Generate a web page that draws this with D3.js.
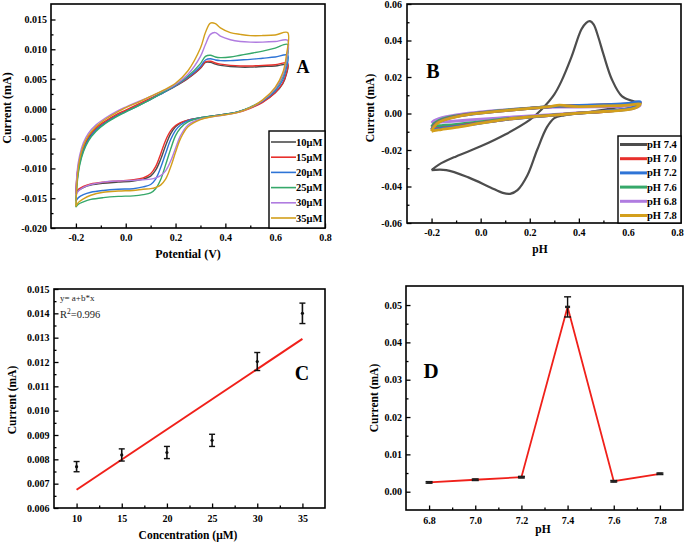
<!DOCTYPE html>
<html><head><meta charset="utf-8">
<script src="https://cdn.jsdelivr.net/npm/d3@7"></script>
<style>body{margin:0;background:#fff}svg{display:block;background:#fff}</style>
</head><body>
<svg id="fig" width="685" height="545"></svg>
<script>
// ---------------- Panel A data (CV at different concentrations) ----------------
const labelsA = ["10μM", "15μM", "20μM", "25μM", "30μM", "35μM"];
const potA_fwd = [-0.2, -0.195, -0.185, -0.17, -0.15, -0.12, -0.08, -0.04, 0, 0.05, 0.1, 0.15, 0.2, 0.25, 0.3, 0.32, 0.34, 0.36, 0.38, 0.42, 0.46, 0.5, 0.55, 0.6, 0.65];
const potA_rev = [0.65, 0.645, 0.63, 0.6, 0.55, 0.5, 0.45, 0.4, 0.35, 0.3, 0.25, 0.22, 0.2, 0.18, 0.16, 0.14, 0.12, 0.1, 0.07, 0.03, -0.03, -0.09, -0.14, -0.17, -0.19, -0.2];
const curA10_fwd = [-0.0143, -0.0112, -0.0087, -0.0067, -0.005, -0.0035, -0.0022, -0.0012, -0.0004, 0.0006, 0.0016, 0.0027, 0.0038, 0.0051, 0.0068, 0.0078, 0.0078, 0.0075, 0.0073, 0.0071, 0.0070, 0.0070, 0.0071, 0.0072, 0.0074];
const curA10_rev = [0.0074, 0.0058, 0.0042, 0.0027, 0.0012, 0.0002, -0.0005, -0.0009, -0.0012, -0.0015, -0.0019, -0.0024, -0.003, -0.0042, -0.0062, -0.0085, -0.0103, -0.0113, -0.0118, -0.0121, -0.0123, -0.0125, -0.0128, -0.0132, -0.0137, -0.0143];
const curA15_fwd = [-0.0142, -0.011, -0.0084, -0.0064, -0.0047, -0.0032, -0.002, -0.001, -0.0002, 0.0008, 0.0018, 0.0028, 0.0039, 0.0052, 0.0069, 0.0079, 0.0080, 0.0077, 0.0075, 0.0073, 0.0072, 0.0072, 0.0073, 0.0074, 0.0077];
const curA15_rev = [0.0077, 0.006, 0.0043, 0.0027, 0.0011, 0.0001, -0.0006, -0.0009, -0.0012, -0.0015, -0.0019, -0.0023, -0.0028, -0.0037, -0.0053, -0.0076, -0.0097, -0.0109, -0.0116, -0.0119, -0.0121, -0.0123, -0.0126, -0.013, -0.0135, -0.0142];
const curA20_fwd = [-0.0155, -0.012, -0.0092, -0.007, -0.0052, -0.0036, -0.0023, -0.0013, -0.0005, 0.0005, 0.0016, 0.0027, 0.0039, 0.0053, 0.0071, 0.0082, 0.0084, 0.0082, 0.0081, 0.0081, 0.0082, 0.0083, 0.0085, 0.0087, 0.009];
const curA20_rev = [0.009, 0.0068, 0.0048, 0.003, 0.0013, 0.0002, -0.0005, -0.0009, -0.0012, -0.0015, -0.002, -0.0027, -0.0036, -0.0052, -0.0075, -0.0099, -0.0118, -0.0127, -0.0131, -0.0134, -0.0135, -0.0137, -0.014, -0.0144, -0.0149, -0.0155];
const curA25_fwd = [-0.0165, -0.0125, -0.0095, -0.0072, -0.0054, -0.0038, -0.0024, -0.0014, -0.0005, 0.0005, 0.0016, 0.0028, 0.004, 0.0055, 0.0076, 0.0088, 0.009, 0.0087, 0.0086, 0.0087, 0.009, 0.0093, 0.0097, 0.0102, 0.0108];
const curA25_rev = [0.0108, 0.0078, 0.0053, 0.0033, 0.0014, 0.0003, -0.0005, -0.0009, -0.0012, -0.0015, -0.0022, -0.0032, -0.0045, -0.0068, -0.0094, -0.0119, -0.0134, -0.0141, -0.0144, -0.0146, -0.0147, -0.0149, -0.0152, -0.0156, -0.016, -0.0165];
const curA30_fwd = [-0.0145, -0.0105, -0.0078, -0.0057, -0.0041, -0.0027, -0.0015, -0.0005, 0.0003, 0.0012, 0.0021, 0.003, 0.0041, 0.0058, 0.0088, 0.0108, 0.0125, 0.0128, 0.0122, 0.0116, 0.0113, 0.0112, 0.0112, 0.0113, 0.0115];
const curA30_rev = [0.0115, 0.0082, 0.0056, 0.0034, 0.0014, 0.0002, -0.0006, -0.001, -0.0013, -0.0017, -0.0027, -0.0045, -0.0066, -0.0088, -0.0104, -0.0112, -0.0116, -0.0118, -0.0119, -0.012, -0.0121, -0.0123, -0.0127, -0.0132, -0.0138, -0.0145];
const curA35_fwd = [-0.0164, -0.012, -0.0085, -0.0062, -0.0045, -0.003, -0.0017, -0.0007, 0.0002, 0.0011, 0.0021, 0.0031, 0.0043, 0.0064, 0.0102, 0.0128, 0.0144, 0.0143, 0.0136, 0.0128, 0.0125, 0.0123, 0.0123, 0.0124, 0.0128];
const curA35_rev = [0.0128, 0.009, 0.006, 0.0036, 0.0015, 0.0002, -0.0006, -0.001, -0.0013, -0.0018, -0.003, -0.005, -0.0073, -0.0098, -0.0118, -0.0128, -0.0132, -0.0134, -0.0135, -0.0137, -0.0138, -0.014, -0.0145, -0.0151, -0.0157, -0.0164];

// ---------------- Panel B data (CV at different pH) ----------------
const labelsB = ["pH 7.4", "pH 7.0", "pH 7.2", "pH 7.6", "pH 6.8", "pH 7.8"];
const potB74_fwd = [-0.2, -0.17, -0.1, 0.0, 0.1, 0.2, 0.25, 0.3, 0.33, 0.37, 0.41, 0.43, 0.445, 0.46, 0.48, 0.5, 0.535, 0.575, 0.62, 0.65];
const curB74_fwd = [-0.031, -0.028, -0.0235, -0.018, -0.0115, -0.0035, 0.0025, 0.0105, 0.018, 0.031, 0.046, 0.0497, 0.0506, 0.0488, 0.0415, 0.0325, 0.0185, 0.0095, 0.0068, 0.006];
const potB74_rev = [0.65, 0.6, 0.5, 0.4, 0.34, 0.3, 0.27, 0.23, 0.19, 0.15, 0.12, 0.09, 0.04, -0.05, -0.14, -0.2];
const curB74_rev = [0.006, 0.0045, 0.002, 0.0, -0.001, -0.0025, -0.0075, -0.02, -0.034, -0.042, -0.044, -0.0435, -0.0405, -0.035, -0.031, -0.031];
const potB_fwd = [-0.2, -0.19, -0.17, -0.14, -0.1, -0.05, 0, 0.1, 0.2, 0.28, 0.32, 0.35, 0.4, 0.5, 0.6, 0.65];
const potB_rev = [0.65, 0.64, 0.62, 0.58, 0.5, 0.4, 0.3, 0.2, 0.1, 0, -0.1, -0.16, -0.19, -0.2];
const curB70_fwd = [-0.0088, -0.0066, -0.0045, -0.0029, -0.0016, -0.0005, 0.0003, 0.0016, 0.0028, 0.0037, 0.004, 0.0042, 0.0043, 0.0047, 0.0053, 0.006];
const curB70_rev = [0.006, 0.0043, 0.0031, 0.0021, 0.0011, 0.0002, -0.0009, -0.002, -0.0033, -0.0051, -0.007, -0.008, -0.0085, -0.0088];
const curB72_fwd = [-0.009, -0.0068, -0.0046, -0.003, -0.0017, -0.0006, 0.0002, 0.0016, 0.0028, 0.0037, 0.004, 0.0042, 0.0044, 0.0049, 0.0055, 0.0065];
const curB72_rev = [0.0065, 0.0045, 0.0032, 0.0022, 0.0012, 0.0002, -0.0009, -0.002, -0.0033, -0.0052, -0.0072, -0.0082, -0.0087, -0.009];
const curB76_fwd = [-0.0072, -0.0055, -0.0038, -0.0024, -0.0013, -0.0003, 0.0005, 0.0018, 0.003, 0.0038, 0.004, 0.0041, 0.0043, 0.0046, 0.005, 0.0056];
const curB76_rev = [0.0056, 0.004, 0.0029, 0.002, 0.0011, 0.0002, -0.0008, -0.0018, -0.003, -0.0045, -0.006, -0.0066, -0.0069, -0.0072];
const curB68_fwd = [-0.0052, -0.004, -0.0028, -0.0017, -0.0007, 0.0002, 0.0009, 0.002, 0.0029, 0.0034, 0.0035, 0.0035, 0.0035, 0.0037, 0.004, 0.0045];
const curB68_rev = [0.0045, 0.0035, 0.0027, 0.002, 0.0012, 0.0004, -0.0005, -0.0013, -0.0022, -0.0031, -0.0041, -0.0047, -0.005, -0.0052];
const curB78_fwd = [-0.0098, -0.0072, -0.0048, -0.0032, -0.0018, -0.0006, 0.0002, 0.0016, 0.0028, 0.0038, 0.0046, 0.0042, 0.0038, 0.0041, 0.0046, 0.0052];
const curB78_rev = [0.0052, 0.0038, 0.0027, 0.0018, 0.0011, 0.0002, -0.0009, -0.0019, -0.0032, -0.0053, -0.0076, -0.0088, -0.0094, -0.0098];

// ---------------- Panel C data (calibration) ----------------
const concC = [10, 15, 20, 25, 30, 35];
const curC = [0.0077, 0.00818, 0.00828, 0.00878, 0.01202, 0.0140];
const errC = [0.00021, 0.00025, 0.00025, 0.00025, 0.00037, 0.00042];
const fitConc = [10, 35];
const fitCur = [0.00675, 0.01295];
const fitText = ["y= a+b*x", "R", "2", "=0.996"];

// ---------------- Panel D data (pH effect) ----------------
const phD = [6.8, 7.0, 7.2, 7.4, 7.6, 7.8];
const curD = [0.0025, 0.0032, 0.0039, 0.0495, 0.0028, 0.0048];
const errD = [0.0002, 0.0002, 0.0002, 0.0027, 0.0002, 0.0002];

// ---------------- Tick values ----------------
const ticksCVx = [-0.2, 0, 0.2, 0.4, 0.6, 0.8];
const minorCVx = [-0.1, 0.1, 0.3, 0.5, 0.7];
const ticksAy = [-0.02, -0.015, -0.01, -0.005, 0, 0.005, 0.01, 0.015];
const minorAy = [-0.0175, -0.0125, -0.0075, -0.0025, 0.0025, 0.0075, 0.0125];
const ticksBy = [-0.06, -0.04, -0.02, 0, 0.02, 0.04, 0.06];
const minorBy = [-0.05, -0.03, -0.01, 0.01, 0.03, 0.05];
const ticksCx = [10, 15, 20, 25, 30, 35];
const minorCx = [12.5, 17.5, 22.5, 27.5, 32.5];
const ticksCy = [0.006, 0.007, 0.008, 0.009, 0.010, 0.011, 0.012, 0.013, 0.014, 0.015];
const minorCy = [0.0065, 0.0075, 0.0085, 0.0095, 0.0105, 0.0115, 0.0125, 0.0135, 0.0145];
const ticksDx = [6.8, 7.0, 7.2, 7.4, 7.6, 7.8];
const minorDx = [6.9, 7.1, 7.3, 7.5, 7.7];
const ticksDy = [0, 0.01, 0.02, 0.03, 0.04, 0.05];
const minorDy = [0.005, 0.015, 0.025, 0.035, 0.045];

// ---------------- Drawing ----------------
const svg = d3.select('#fig');
const FONT = "'Liberation Serif','Times New Roman',serif";
const colors = ['#4d4d4d', '#e8302c', '#2e74d6', '#36a86a', '#b07ce0', '#d39f1c'];

function makePanel(o) {
  const x = d3.scaleLinear().domain(o.xDomain).range([o.left, o.right]);
  const y = d3.scaleLinear().domain(o.yDomain).range([o.bottom, o.top]);
  const g = svg.append('g');
  const data = g.append('g');
  const ax = g.append('g');
  const rm = s => s.select('.domain').remove();
  ax.append('g').attr('transform', `translate(0,${o.bottom})`)
    .call(d3.axisBottom(x).tickValues(o.xMinor).tickSize(-2.5).tickFormat('')).call(rm);
  ax.append('g').attr('transform', `translate(${o.left},0)`)
    .call(d3.axisLeft(y).tickValues(o.yMinor).tickSize(-2.5).tickFormat('')).call(rm);
  ax.append('g').attr('transform', `translate(0,${o.bottom})`)
    .call(d3.axisBottom(x).tickValues(o.xTicks).tickSize(-4.5).tickPadding(o.xPad).tickFormat(o.xFmt)).call(rm);
  ax.append('g').attr('transform', `translate(${o.left},0)`)
    .call(d3.axisLeft(y).tickValues(o.yTicks).tickSize(-4.5).tickPadding(o.yPad).tickFormat(o.yFmt)).call(rm);
  ax.selectAll('.tick line').attr('stroke', '#000').attr('stroke-width', 1.3);
  ax.selectAll('.tick text').attr('font-family', FONT).attr('font-weight', 'bold')
    .attr('font-size', o.tickFs || 10).attr('fill', '#000');
  ax.append('rect').attr('x', o.left).attr('y', o.top)
    .attr('width', o.right - o.left).attr('height', o.bottom - o.top)
    .attr('fill', 'none').attr('stroke', '#000').attr('stroke-width', 1.6);
  ax.append('text').attr('x', o.xTitleX).attr('y', o.xTitleY).attr('text-anchor', 'middle')
    .attr('font-family', FONT).attr('font-weight', 'bold').attr('font-size', o.titleFs || 11.5)
    .text(o.xTitle);
  ax.append('text').attr('transform', `translate(${o.yTitleX},${o.yTitleY}) rotate(-90)`)
    .attr('text-anchor', 'middle').attr('dominant-baseline', 'central')
    .attr('font-family', FONT).attr('font-weight', 'bold').attr('font-size', o.titleFs || 11.5)
    .text(o.yTitle);
  ax.append('text').attr('x', o.letterX).attr('y', o.letterY).attr('text-anchor', 'middle')
    .attr('font-family', FONT).attr('font-weight', 'bold').attr('font-size', o.letterFs)
    .text(o.letter);
  return { x, y, g: data, ax };
}

const f3 = d => d.toFixed(3), f2 = d => d.toFixed(2), f1 = d => d.toFixed(1), f0 = d => d.toFixed(0);

// ---- Panel A
const A = makePanel({ left: 51, right: 325, top: 4, bottom: 228, xDomain: [-0.3, 0.8], yDomain: [-0.02, 0.0176],
  xTicks: ticksCVx, xMinor: minorCVx, yTicks: ticksAy, yMinor: minorAy, xFmt: f1, yFmt: f3, xPad: 6, yPad: 4,
  xTitle: 'Potential (V)', xTitleX: 188, xTitleY: 258, yTitle: 'Current (mA)', yTitleX: 7, yTitleY: 108, titleFs: 12,
  letter: 'A', letterX: 303, letterY: 73, letterFs: 18 });
const seriesA = [
  [curA10_fwd, curA10_rev], [curA15_fwd, curA15_rev], [curA20_fwd, curA20_rev],
  [curA25_fwd, curA25_rev], [curA30_fwd, curA30_rev], [curA35_fwd, curA35_rev]
].map((s, i) => ({ name: labelsA[i], color: colors[i],
  pts: potA_fwd.map((p, k) => [p, s[0][k]]).concat(potA_rev.slice(1).map((p, k) => [p, s[1][k + 1]])) }));
const lineA = d3.line().x(d => A.x(d[0])).y(d => A.y(d[1])).curve(d3.curveCatmullRom.alpha(0.5));
A.g.selectAll('path.cv').data(seriesA).join('path').attr('class', 'cv')
  .attr('d', d => lineA(d.pts)).attr('fill', 'none').attr('stroke', d => d.color).attr('stroke-width', 1.4);
const legA = A.ax.append('g');
legA.append('rect').attr('x', 269).attr('y', 131).attr('width', 56).attr('height', 97)
  .attr('fill', '#fff').attr('stroke', '#000').attr('stroke-width', 1.4);
seriesA.forEach((s, i) => {
  const yy = 142 + i * 15.2;
  legA.append('line').attr('x1', 271).attr('x2', 296).attr('y1', yy).attr('y2', yy)
    .attr('stroke', s.color).attr('stroke-width', 1.6);
  legA.append('text').attr('x', 296).attr('y', yy).attr('dominant-baseline', 'central')
    .attr('font-family', FONT).attr('font-weight', 'bold').attr('font-size', 10.5).text(s.name);
});

// ---- Panel B
const B = makePanel({ left: 407, right: 681, top: 4, bottom: 223, xDomain: [-0.3, 0.816], yDomain: [-0.06, 0.06],
  xTicks: ticksCVx, xMinor: minorCVx, yTicks: ticksBy, yMinor: minorBy, xFmt: f1, yFmt: f2, xPad: 6, yPad: 5,
  xTitle: 'pH', xTitleX: 540, xTitleY: 253, yTitle: 'Current (mA)', yTitleX: 370, yTitleY: 108,
  letter: 'B', letterX: 433, letterY: 78, letterFs: 20 });
const rawB = [
  [potB74_fwd, curB74_fwd, potB74_rev, curB74_rev],
  [potB_fwd, curB70_fwd, potB_rev, curB70_rev],
  [potB_fwd, curB72_fwd, potB_rev, curB72_rev],
  [potB_fwd, curB76_fwd, potB_rev, curB76_rev],
  [potB_fwd, curB68_fwd, potB_rev, curB68_rev],
  [potB_fwd, curB78_fwd, potB_rev, curB78_rev]
];
const seriesB = rawB.map((s, i) => ({ name: labelsB[i], color: colors[i], w: i === 0 ? 2.2 : 2.8,
  pts: s[0].map((p, k) => [p, s[1][k]]).concat(s[2].slice(1).map((p, k) => [p, s[3][k + 1]])) }));
const lineB = d3.line().x(d => B.x(d[0])).y(d => B.y(d[1])).curve(d3.curveCatmullRom.alpha(0.5));
const orderB = [0, 4, 3, 1, 2, 5];
B.g.selectAll('path.cv').data(orderB.map(i => seriesB[i])).join('path').attr('class', 'cv')
  .attr('d', d => lineB(d.pts)).attr('fill', 'none').attr('stroke', d => d.color)
  .attr('stroke-width', d => d.w).attr('stroke-linejoin', 'round');
const legB = B.ax.append('g');
legB.append('rect').attr('x', 618).attr('y', 136).attr('width', 63).attr('height', 87)
  .attr('fill', '#fff').attr('stroke', '#000').attr('stroke-width', 1.4);
seriesB.forEach((s, i) => {
  const yy = 144.5 + i * 14.2;
  legB.append('line').attr('x1', 620).attr('x2', 647).attr('y1', yy).attr('y2', yy)
    .attr('stroke', s.color).attr('stroke-width', 3);
  legB.append('text').attr('x', 647).attr('y', yy).attr('dominant-baseline', 'central')
    .attr('font-family', FONT).attr('font-weight', 'bold').attr('font-size', 10.5).text(s.name);
});

// ---- Panel C
const C = makePanel({ left: 54, right: 325, top: 289, bottom: 508, xDomain: [7.5, 37.5], yDomain: [0.006, 0.015],
  xTicks: ticksCx, xMinor: minorCx, yTicks: ticksCy, yMinor: minorCy, xFmt: f0, yFmt: f3, xPad: 7, yPad: 4.5,
  xTitle: 'Concentration (μM)', xTitleX: 188, xTitleY: 539, yTitle: 'Current (mA)', yTitleX: 12, yTitleY: 400,
  letter: 'C', letterX: 302, letterY: 380, letterFs: 20 });
C.g.append('path').datum(fitConc.map((c, i) => [c, fitCur[i]]))
  .attr('d', d3.line().x(d => C.x(d[0])).y(d => C.y(d[1])))
  .attr('stroke', '#f0201a').attr('stroke-width', 2).attr('fill', 'none');
const eC = C.g.selectAll('g.err').data(concC.map((c, i) => ({ c, v: curC[i], e: errC[i] }))).join('g').attr('class', 'err');
eC.append('line').attr('x1', d => C.x(d.c)).attr('x2', d => C.x(d.c))
  .attr('y1', d => C.y(d.v - d.e)).attr('y2', d => C.y(d.v + d.e)).attr('stroke', '#111').attr('stroke-width', 1.6);
eC.append('line').attr('x1', d => C.x(d.c) - 3).attr('x2', d => C.x(d.c) + 3)
  .attr('y1', d => C.y(d.v - d.e)).attr('y2', d => C.y(d.v - d.e)).attr('stroke', '#111').attr('stroke-width', 1.4);
eC.append('line').attr('x1', d => C.x(d.c) - 3).attr('x2', d => C.x(d.c) + 3)
  .attr('y1', d => C.y(d.v + d.e)).attr('y2', d => C.y(d.v + d.e)).attr('stroke', '#111').attr('stroke-width', 1.4);
eC.append('circle').attr('cx', d => C.x(d.c)).attr('cy', d => C.y(d.v)).attr('r', 1.6).attr('fill', '#111');
const tC = C.ax.append('g').attr('font-family', FONT).attr('fill', '#222');
tC.append('text').attr('x', 60).attr('y', 301).attr('font-size', 9).text(fitText[0]);
const r2 = tC.append('text').attr('x', 60).attr('y', 318).attr('font-size', 10.5);
r2.append('tspan').text(fitText[1]);
r2.append('tspan').attr('dy', -4).attr('font-size', 7.5).text(fitText[2]);
r2.append('tspan').attr('dy', 4).text(fitText[3]);

// ---- Panel D
const D = makePanel({ left: 406, right: 683, top: 286, bottom: 510, xDomain: [6.7, 7.9], yDomain: [-0.0049, 0.0551],
  xTicks: ticksDx, xMinor: minorDx, yTicks: ticksDy, yMinor: minorDy, xFmt: f1, yFmt: f2, xPad: 7, yPad: 4,
  xTitle: 'pH', xTitleX: 543, xTitleY: 533, yTitle: 'Current (mA)', yTitleX: 373.5, yTitleY: 398,
  letter: 'D', letterX: 431, letterY: 378, letterFs: 21 });
const ptsD = phD.map((p, i) => ({ p, v: curD[i], e: errD[i] }));
D.g.append('path').datum(ptsD).attr('d', d3.line().x(d => D.x(d.p)).y(d => D.y(d.v)))
  .attr('stroke', '#f0201a').attr('stroke-width', 1.8).attr('fill', 'none');
const eD = D.g.selectAll('g.err').data(ptsD).join('g').attr('class', 'err');
eD.append('line').attr('x1', d => D.x(d.p)).attr('x2', d => D.x(d.p))
  .attr('y1', d => D.y(d.v - d.e)).attr('y2', d => D.y(d.v + d.e)).attr('stroke', '#111').attr('stroke-width', 1.4);
eD.append('line').attr('x1', d => D.x(d.p) - 3.5).attr('x2', d => D.x(d.p) + 3.5)
  .attr('y1', d => D.y(d.v - d.e)).attr('y2', d => D.y(d.v - d.e)).attr('stroke', '#111').attr('stroke-width', 1.4);
eD.append('line').attr('x1', d => D.x(d.p) - 3.5).attr('x2', d => D.x(d.p) + 3.5)
  .attr('y1', d => D.y(d.v + d.e)).attr('y2', d => D.y(d.v + d.e)).attr('stroke', '#111').attr('stroke-width', 1.4);
eD.append('rect').attr('x', d => D.x(d.p) - 2.5).attr('y', d => D.y(d.v) - 1.2).attr('width', 5).attr('height', 2.4).attr('fill', '#222');
</script>
</body></html>
